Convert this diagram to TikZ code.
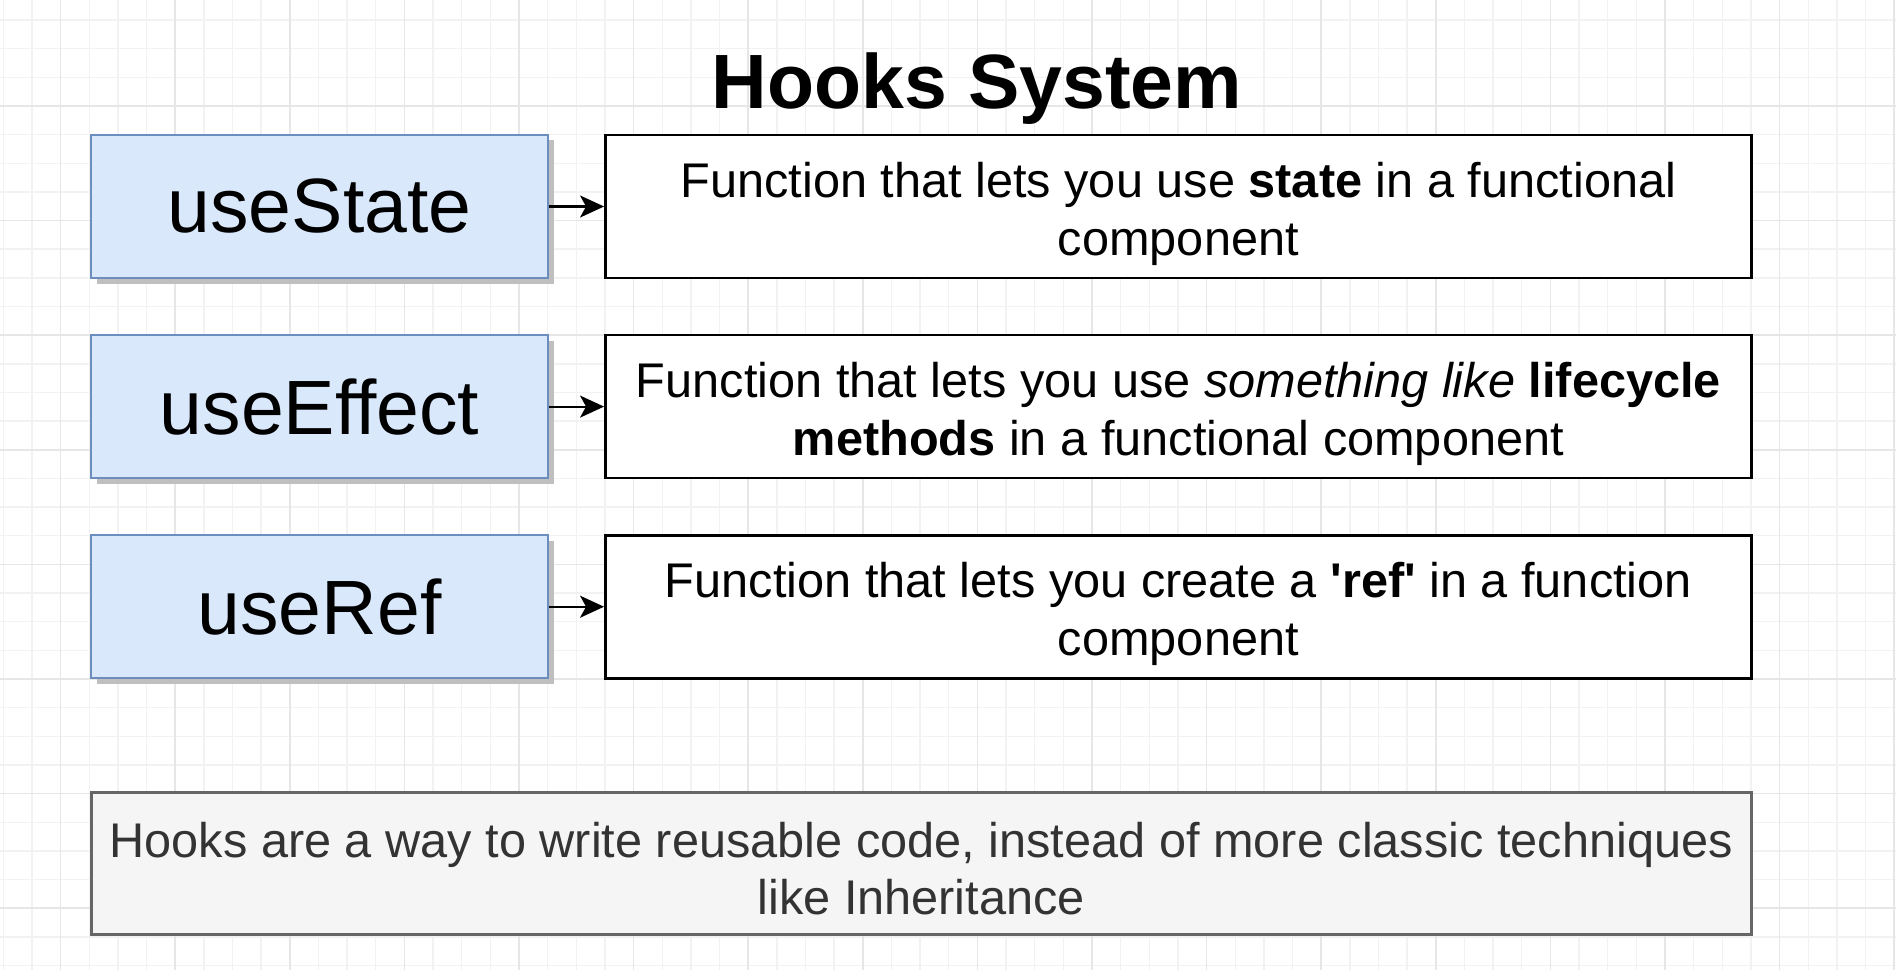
\documentclass[tikz,border=0pt]{standalone}
\usepackage{fontspec}
\setmainfont{Liberation Sans}
\usetikzlibrary{positioning,shadows,arrows.meta}
\definecolor{hookfill}{HTML}{DAE8FC}
\definecolor{hookline}{HTML}{6C8EBF}
\definecolor{notefill}{HTML}{F5F5F5}
\definecolor{noteline}{HTML}{666666}
\definecolor{notetext}{HTML}{333333}
\definecolor{gridminor}{HTML}{F2F2F2}
\definecolor{gridmajor}{HTML}{E6E6E6}
\begin{document}
\begin{tikzpicture}[
  node distance=1.1cm,
  hook/.style={draw=hookline, fill=hookfill, line width=1.2pt, minimum width=9.14cm, minimum height=2.86cm, inner sep=0pt,
    font=\fontsize{43.8}{50}\selectfont, drop shadow={shadow xshift=0.11cm, shadow yshift=-0.11cm, fill=black!25, opacity=1}},
  desc/.style={draw=black, fill=white, line width=1.5pt, minimum width=22.92cm, minimum height=2.86cm, inner sep=0pt,
    align=center, text height=61.3pt, font=\fontsize{27.7}{33}\selectfont},
  note/.style={draw=noteline, fill=notefill, line width=1.5pt, minimum width=33.2cm, minimum height=2.84cm, inner sep=0pt,
    align=center, text height=58.4pt, text=notetext, font=\fontsize{27.7}{32.8}\selectfont},
  heading/.style={anchor=base, font=\bfseries\fontsize{43.8}{50}\selectfont},
  arrow/.style={-{Stealth[length=0.48cm, width=0.44cm, inset=0.12cm]}, line width=1.2pt}
]
\useasboundingbox (0,0) rectangle (37.92,-19.4);
% background grid
\fill[white] (0,0) rectangle (37.92,-19.4);
\draw[gridminor, line width=0.8pt, shift={(0.066,-0.40)}] (-0.066,-19.0) grid[step=0.573] (37.854,0.40);
\draw[gridmajor, line width=0.9pt, shift={(1.212,-2.119)}] (-1.212,-17.281) grid[step=2.292] (36.708,2.119);

\node[heading] (title) at (19.54,-2.18) {Hooks System};

% hooks
\node[hook] (usestate) at (6.39,-4.13) {useState};
\node[hook, below=of usestate] (useeffect) {useEffect};
\node[hook, below=of useeffect] (useref) {useRef};

% descriptions
\node[desc, right=of usestate] (statetext) {Function that lets you use \textbf{state} in a functional\\component};
\node[desc, right=of useeffect] (effecttext) {Function that lets you use \textit{something like} \textbf{lifecycle}\\\textbf{methods} in a functional component};
\node[desc, right=of useref] (reftext) {Function that lets you create a \textbf{\textquotesingle ref\textquotesingle} in a function\\component};

\node[note, below=2.24cm of useref.south west, anchor=north west] (summary) {Hooks are a way to write reusable code, instead of more classic techniques\\like Inheritance};

\draw[arrow] (usestate) -- (statetext);
\draw[arrow] (useeffect) -- (effecttext);
\draw[arrow] (useref) -- (reftext);
\end{tikzpicture}
\end{document}
